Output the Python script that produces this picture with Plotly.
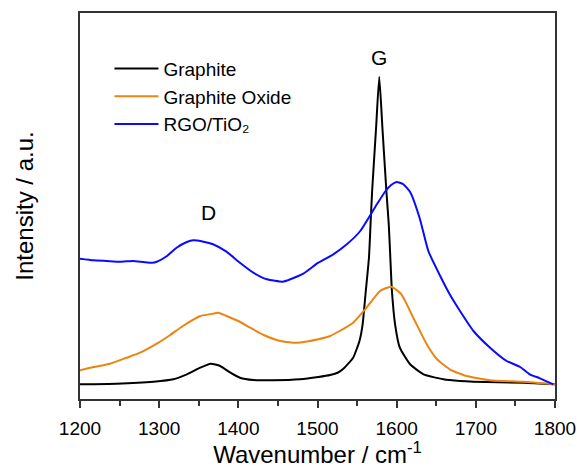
import plotly.graph_objects as go

# Graphite
wn_graphite = [1200, 1246, 1293, 1318, 1335, 1352, 1365, 1377, 1390, 1402, 1419, 1444, 1478,
               1501, 1516, 1526, 1533, 1545, 1553, 1557, 1561, 1565, 1567, 1569, 1574, 1578,
               1582, 1587, 1590, 1592, 1594, 1598, 1604, 1617, 1634, 1659, 1680, 1697, 1760, 1800]
int_graphite = [14.7, 15.3, 17.3, 19.7, 24.7, 31.3, 35.3, 33, 26.3, 21.3, 19, 18.7, 19.7,
                22, 24, 26.5, 30.5, 41.3, 58, 74.7, 108, 141.3, 174.7, 208, 271, 322,
                271, 208, 174.7, 141.3, 108, 74.7, 51.3, 34.7, 24.7, 19.7, 18, 17.3, 16.3, 14.7]

# Graphite Oxide
wn_go = [1200, 1217, 1238, 1259, 1276, 1297, 1314, 1330, 1352, 1364, 1375, 1385, 1400, 1415,
         1432, 1453, 1470, 1478, 1501, 1516, 1528, 1545, 1562, 1579, 1593, 1606, 1621, 1638,
         1651, 1667, 1680, 1688, 1718, 1760, 1800]
int_go = [28.7, 32, 35.3, 41.3, 46.3, 55.3, 64, 73, 83, 84.7, 86.3, 83, 78, 71.3,
          64, 58, 56.3, 56.5, 59.7, 63, 68, 76.3, 91.3, 108, 112.3, 104.7, 81.3, 54.7,
          39.7, 29.7, 25.3, 23, 18.7, 17.3, 14.7]

# RGO/TiO2
wn_rgo = [1200, 1217, 1234, 1251, 1267, 1280, 1291, 1297, 1310, 1322, 1335, 1343, 1356, 1368,
          1385, 1402, 1419, 1436, 1456, 1465, 1482, 1501, 1520, 1537, 1554, 1575,
          1586, 1593, 1600, 1608, 1617, 1629, 1640, 1655, 1667, 1680, 1697, 1718, 1739, 1756, 1768, 1781, 1798]
int_rgo = [140.3, 138.7, 138, 137.3, 138, 137, 136.3, 137.3, 143, 151.3, 157, 158.7, 157.3, 154.7,
           147.3, 136.3, 126.3, 119.7, 117.3, 119.5, 125.3, 136.3, 144.7, 154.7, 168, 194.7,
           208, 214, 217, 215, 207, 181, 148, 123, 104.7, 88, 68, 51.3, 38, 32, 24.7, 20.7, 14.7]

x_ticks = [1200, 1300, 1400, 1500, 1600, 1700, 1800]

font_family = "Arial, Liberation Sans, sans-serif"

fig = go.Figure()
fig.add_trace(go.Scatter(x=wn_graphite, y=int_graphite, mode="lines", name="Graphite",
                         line=dict(color="#000000", width=2, shape="spline", smoothing=0.5)))
fig.add_trace(go.Scatter(x=wn_go, y=int_go, mode="lines", name="Graphite Oxide",
                         line=dict(color="#EE8410", width=2, shape="spline", smoothing=0.5)))
fig.add_trace(go.Scatter(x=wn_rgo, y=int_rgo, mode="lines", name="RGO/TiO₂",
                         line=dict(color="#0A0AFF", width=2, shape="spline", smoothing=0.5)))

fig.add_annotation(x=1362, y=187, text="D", showarrow=False, xref="x", yref="y",
                   font=dict(size=21, color="black", family=font_family))
fig.add_annotation(x=1578, y=342, text="G", showarrow=False, xref="x", yref="y",
                   font=dict(size=21, color="black", family=font_family))

fig.update_layout(
    width=577, height=468,
    margin=dict(l=80, r=22, t=13, b=69),
    paper_bgcolor="white", plot_bgcolor="white",
    font=dict(family=font_family, color="black"),
    legend=dict(x=0.062, y=0.905, xanchor="left", yanchor="top",
                bgcolor="rgba(0,0,0,0)", font=dict(size=19, family=font_family),
                itemwidth=44, tracegroupgap=0),
    showlegend=True,
)
fig.update_xaxes(range=[1200, 1800], tickvals=x_ticks, ticks="outside", ticklen=7, tickwidth=1.5,
                 tickcolor="#333", showline=True, linecolor="#333", linewidth=1.5, mirror=True,
                 showgrid=False, zeroline=False, ticklabelstandoff=4, automargin=False,
                 minor=dict(dtick=50, ticks="outside", ticklen=5, tickwidth=1.5, tickcolor="#333"),
                 tickfont=dict(size=19, family=font_family),
                 title=dict(text="Wavenumber / cm<sup>-1</sup>", font=dict(size=24, family=font_family),
                            standoff=18))
fig.update_yaxes(range=[0, 386], showticklabels=False, ticks="", showline=True, linecolor="#333",
                 linewidth=1.5, mirror=True, showgrid=False, zeroline=False, automargin=False,
                 title=dict(text="Intensity / a.u.", font=dict(size=24, family=font_family),
                            standoff=38))

fig.write_html("out.html")
